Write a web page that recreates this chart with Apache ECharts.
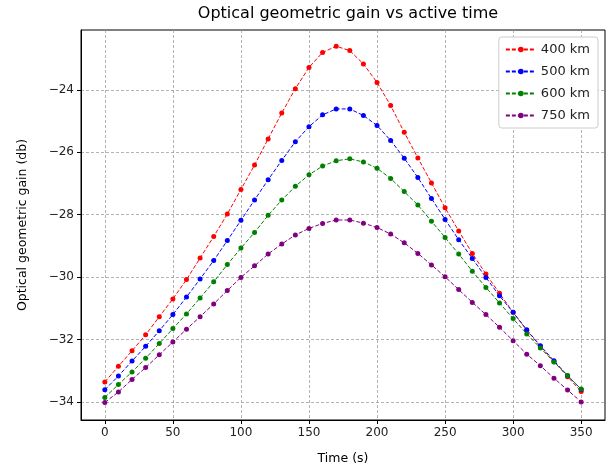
<!DOCTYPE html>
<html>
<head>
<meta charset="utf-8">
<script src="https://cdn.jsdelivr.net/npm/echarts@6/dist/echarts.min.js"></script>
<style>
  html, body { margin: 0; padding: 0; background: #fff; }
  #chart { width: 616px; height: 470px; }
</style>
</head>
<body>
<div id="chart"></div>
<script>
const times = [0, 10, 20, 30, 40, 50, 60, 70, 80, 90, 100, 110, 120, 130, 140, 150, 160, 170,
  180, 190, 200, 210, 220, 230, 240, 250, 260, 270, 280, 290, 300, 310, 320, 330, 340, 350];

const gain400 = [-33.36, -32.86, -32.36, -31.85, -31.27, -30.70, -30.08, -29.39, -28.70, -27.98,
  -27.19, -26.41, -25.57, -24.74, -23.96, -23.28, -22.80, -22.60, -22.74, -23.17,
  -23.76, -24.50, -25.36, -26.18, -26.98, -27.78, -28.52, -29.24, -29.90, -30.52,
  -31.13, -31.70, -32.22, -32.71, -33.19, -33.67];
const gain500 = [-33.61, -33.17, -32.69, -32.22, -31.72, -31.20, -30.64, -30.06, -29.47, -28.83,
  -28.18, -27.53, -26.88, -26.26, -25.66, -25.18, -24.80, -24.61, -24.61, -24.82,
  -25.14, -25.62, -26.19, -26.81, -27.48, -28.15, -28.80, -29.40, -30.01, -30.60,
  -31.13, -31.69, -32.20, -32.68, -33.16, -33.60];
const gain600 = [-33.86, -33.44, -33.04, -32.60, -32.13, -31.65, -31.18, -30.67, -30.15, -29.60,
  -29.07, -28.57, -28.02, -27.53, -27.09, -26.72, -26.44, -26.27, -26.21, -26.31,
  -26.51, -26.84, -27.26, -27.69, -28.21, -28.73, -29.26, -29.81, -30.33, -30.83,
  -31.33, -31.82, -32.27, -32.72, -33.15, -33.59];
const gain750 = [-34.02, -33.68, -33.28, -32.90, -32.49, -32.08, -31.67, -31.27, -30.86, -30.43,
  -30.01, -29.64, -29.26, -28.94, -28.65, -28.44, -28.28, -28.17, -28.17, -28.27,
  -28.41, -28.62, -28.90, -29.24, -29.61, -29.99, -30.40, -30.81, -31.20, -31.61,
  -32.04, -32.47, -32.84, -33.24, -33.62, -34.00];

const xTicks = [0, 50, 100, 150, 200, 250, 300, 350];
const yTicks = [-34, -32, -30, -28, -26, -24];

const seriesNames = ["400 km", "500 km", "600 km", "750 km"];
const seriesColors = ["#ff0000", "#0000ff", "#008000", "#800080"];
const seriesData = [gain400, gain500, gain600, gain750];

const font = "DejaVu Sans";

const chart = echarts.init(document.getElementById("chart"));

const gridLine = {show: true, lineStyle: {color: "#a0a0a0", width: 0.8, type: [3, 2]}};

chart.setOption({
  animation: false,
  textStyle: {fontFamily: font},
  title: {
    text: "Optical geometric gain vs active time",
    left: 343,
    textAlign: "center",
    top: 1,
    textStyle: {fontFamily: font, fontSize: 16, fontWeight: "normal", color: "#000"}
  },
  legend: {
    data: seriesNames,
    orient: "vertical",
    right: 18,
    top: 37,
    padding: [6, 8, 6, 6],
    itemGap: 9,
    itemWidth: 30,
    itemHeight: 7,
    backgroundColor: "#fff",
    borderColor: "#cccccc",
    borderWidth: 1,
    borderRadius: 3,
    textStyle: {fontFamily: font, fontSize: 13, color: "#222", lineHeight: 13}
  },
  grid: {
    left: 81,
    right: 11,
    top: 30,
    bottom: 50,
    show: true,
    borderColor: "#000",
    borderWidth: 1
  },
  xAxis: {
    type: "value",
    min: -17.5,
    max: 367.5,
    name: "Time (s)",
    nameLocation: "middle",
    nameGap: 32,
    nameTextStyle: {fontFamily: font, fontSize: 12.5, color: "#000"},
    axisLine: {show: true, onZero: false, lineStyle: {color: "#000", width: 1}},
    axisTick: {show: true, customValues: xTicks, length: 4, lineStyle: {color: "#000"}},
    axisLabel: {customValues: xTicks, fontFamily: font, fontSize: 12, color: "#222", margin: 7},
    splitLine: gridLine
  },
  yAxis: {
    type: "value",
    min: -34.58,
    max: -22.08,
    name: "Optical geometric gain (db)",
    nameLocation: "middle",
    nameGap: 52,
    nameTextStyle: {fontFamily: font, fontSize: 12.5, color: "#000"},
    axisLine: {show: true, onZero: false, lineStyle: {color: "#000", width: 1}},
    axisTick: {show: true, customValues: yTicks, length: 4, lineStyle: {color: "#000"}},
    axisLabel: {
      customValues: yTicks,
      fontFamily: font, fontSize: 12, color: "#222", margin: 7,
      formatter: v => String(v).replace("-", "\u2212")
    },
    splitLine: gridLine
  },
  series: seriesNames.map((name, i) => ({
    name: name,
    type: "line",
    data: times.map((t, j) => [t, seriesData[i][j]]),
    symbol: "circle",
    symbolSize: 5,
    color: seriesColors[i],
    lineStyle: {color: seriesColors[i], width: 1, type: [4, 2]},
    itemStyle: {color: seriesColors[i]}
  }))
});
</script>
</body>
</html>
